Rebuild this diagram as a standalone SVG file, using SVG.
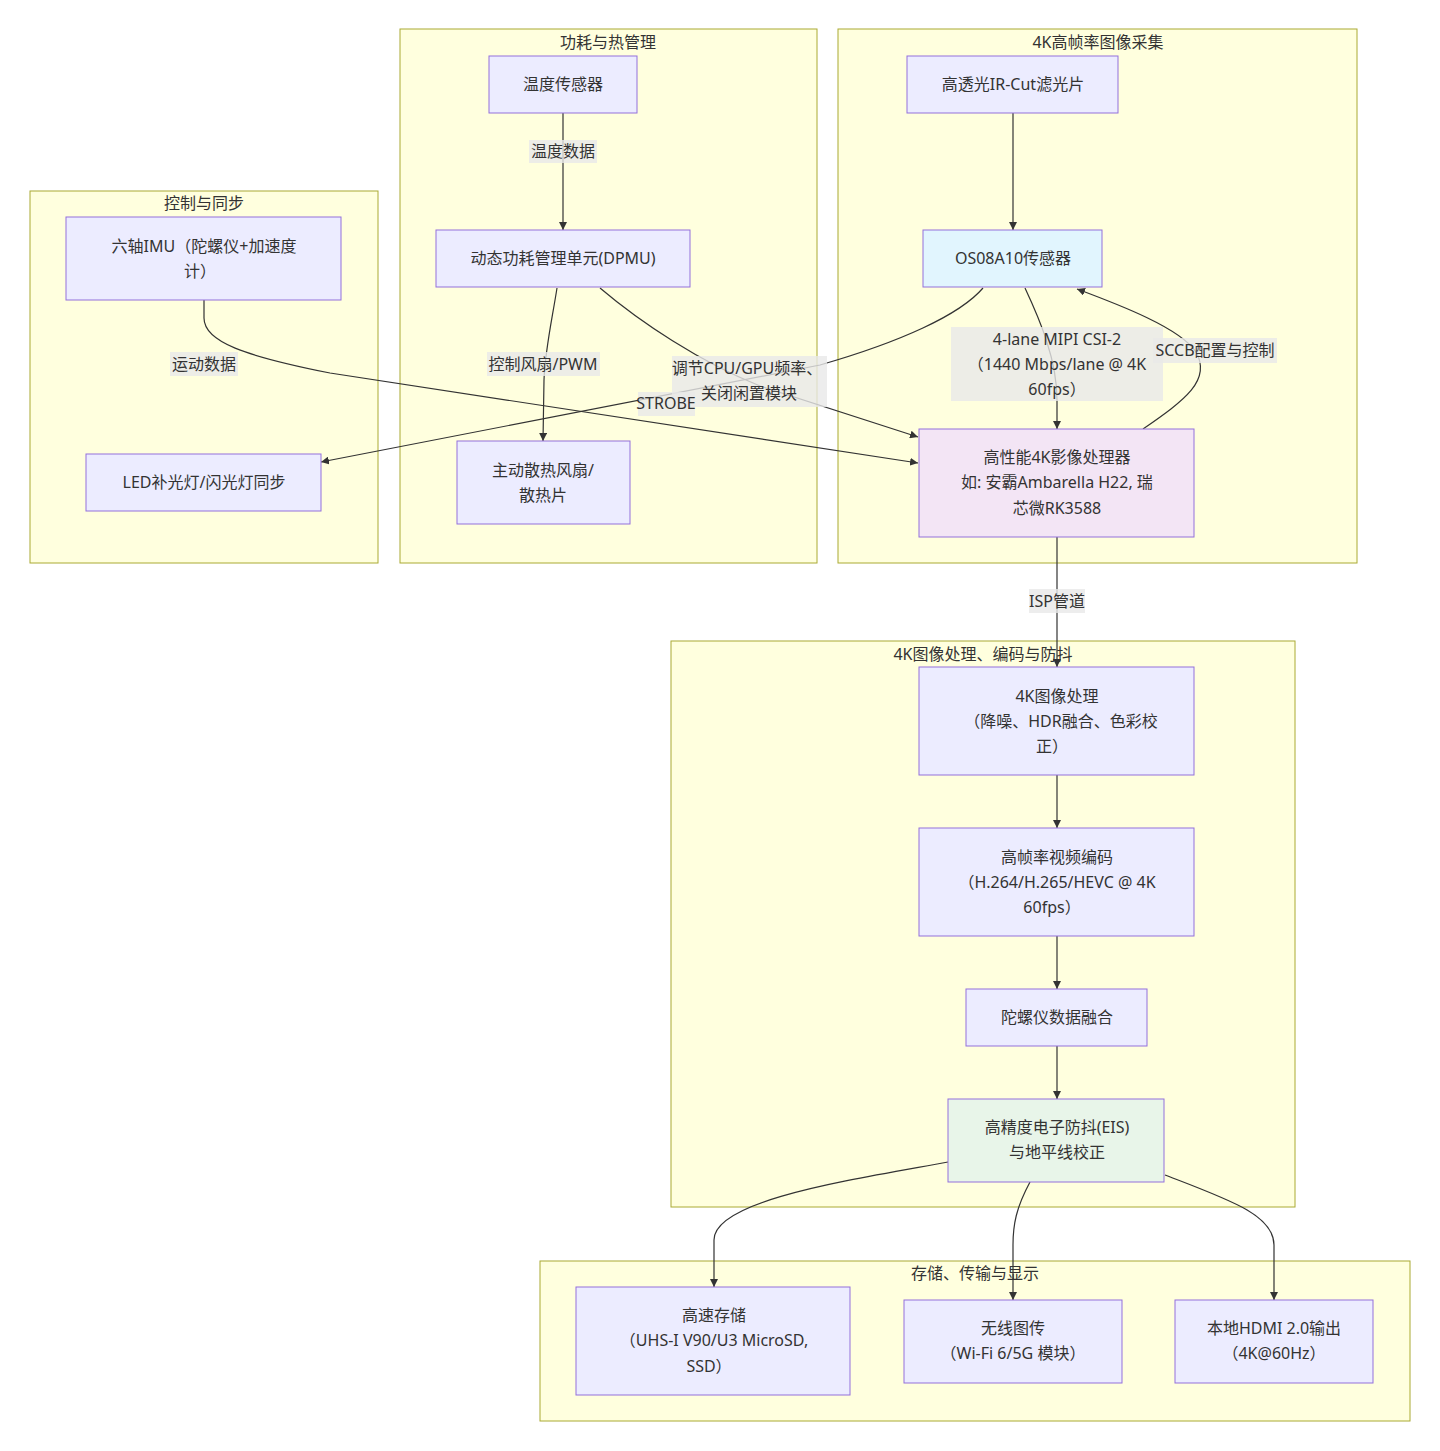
<svg xmlns="http://www.w3.org/2000/svg" width="1440" height="1451" viewBox="0 0 1440 1451">
<style>
text{font-family:"Noto Sans","Noto Sans CJK SC",sans-serif;font-size:16px;fill:#333;text-anchor:middle;dominant-baseline:central}
.cl{fill:#ffffde;stroke:#aaaa33;stroke-width:1}
.nd{fill:#ececff;stroke:#9370db;stroke-width:1}
.e{fill:none;stroke:#333;stroke-width:1.2;marker-end:url(#ah)}
.lb{fill:#e8e8e8;fill-opacity:0.8}
</style>
<defs>
<marker id="ah" viewBox="0 0 10 10" refX="10" refY="5" markerWidth="8" markerHeight="8" orient="auto" markerUnits="userSpaceOnUse"><path d="M0,0 L10,5 L0,10 z" fill="#333"/></marker>
</defs>
<rect width="1440" height="1451" fill="#ffffff"/>
<g id="clusters">
<g id="cl-ctrl"><rect class="cl" x="30" y="191" width="348" height="372"/><text x="204" y="203">控制与同步</text></g>
<g id="cl-power"><rect class="cl" x="400" y="29" width="417" height="534"/><text x="608" y="42">功耗与热管理</text></g>
<g id="cl-capture"><rect class="cl" x="838" y="29" width="519" height="534"/><text x="1098" y="42">4K高帧率图像采集</text></g>
<g id="cl-proc"><rect class="cl" x="671" y="641" width="624" height="566"/><text x="983" y="654">4K图像处理、编码与防抖</text></g>
<g id="cl-out"><rect class="cl" x="540" y="1261" width="870" height="160"/><text x="975" y="1273">存储、传输与显示</text></g>
</g>
<g id="connectors">
<path class="e" d="M563,113 L563,230"/>
<path class="e" d="M557,288 C552,320 545,350 544,380 L543,441"/>
<path class="e" d="M600,288 C640,322 700,362 760,386 L918,437"/>
<path class="e" d="M204,300 L204,318 C204,342 245,356 330,373 L918,463"/>
<path class="e" d="M983,288 C960,315 900,342 820,365 L321,462"/>
<path class="e" d="M1025,288 C1040,320 1057,360 1057,400 L1057,429"/>
<path class="e" d="M1143,429 C1185,400 1212,380 1196,352 C1180,328 1120,305 1077,289"/>
<path class="e" d="M1013,113 L1013,230"/>
<path class="e" d="M1057,537 L1057,667"/>
<path class="e" d="M1057,775 L1057,828"/>
<path class="e" d="M1057,936 L1057,989"/>
<path class="e" d="M1057,1046 L1057,1099"/>
<path class="e" d="M948,1162 C850,1180 714,1200 714,1240 L714,1287"/>
<path class="e" d="M1030,1182 C1016,1208 1013,1225 1013,1245 L1013,1300"/>
<path class="e" d="M1165,1175 C1230,1200 1274,1215 1274,1245 L1274,1300"/>
</g>
<g id="edge-labels">
<g><rect class="lb" x="529" y="140" width="68" height="23"/><text x="563" y="151">温度数据</text></g>
<g><rect class="lb" x="170" y="352" width="68" height="24"/><text x="204" y="364">运动数据</text></g>
<g><rect class="lb" x="487" y="352" width="113" height="24"/><text x="543" y="364">控制风扇/PWM</text></g>
<g><rect class="lb" x="672" y="356" width="155" height="51"/><text x="747" y="368">调节CPU/GPU频率、</text><text x="749" y="393">关闭闲置模块</text></g>
<g><rect class="lb" x="638" y="392" width="57" height="24"/><text x="666" y="403">STROBE</text></g>
<g><rect class="lb" x="951" y="327" width="212" height="74"/><text x="1057" y="339">4-lane MIPI CSI-2</text><text x="1057" y="364">（1440 Mbps/lane @ 4K</text><text x="1057" y="389">60fps）</text></g>
<g><rect class="lb" x="1153" y="338" width="124" height="25"/><text x="1215" y="350">SCCB配置与控制</text></g>
<g><rect class="lb" x="1029" y="589" width="56" height="24"/><text x="1057" y="601">ISP管道</text></g>
</g>
<g id="n-temp"><rect class="nd" x="489" y="56" width="148" height="57"/><text x="563" y="84">温度传感器</text></g>
<g id="n-dpmu"><rect class="nd" x="436" y="230" width="254" height="57"/><text x="563" y="258">动态功耗管理单元(DPMU)</text></g>
<g id="n-fan"><rect class="nd" x="457" y="441" width="173" height="83"/><text x="543" y="470">主动散热风扇/</text><text x="543" y="495">散热片</text></g>
<g id="n-imu"><rect class="nd" x="66" y="217" width="275" height="83"/><text x="204" y="246">六轴IMU（陀螺仪+加速度</text><text x="200" y="271">计）</text></g>
<g id="n-led"><rect class="nd" x="86" y="454" width="235" height="57"/><text x="204" y="482">LED补光灯/闪光灯同步</text></g>
<g id="n-ircut"><rect class="nd" x="907" y="56" width="211" height="57"/><text x="1013" y="84">高透光IR-Cut滤光片</text></g>
<g id="n-sensor"><rect class="nd" x="923" y="230" width="179" height="57" style="fill:#e1f5fe"/><text x="1013" y="258">OS08A10传感器</text></g>
<g id="n-soc"><rect class="nd" x="919" y="429" width="275" height="108" style="fill:#f3e5f5"/><text x="1057" y="457">高性能4K影像处理器</text><text x="1057" y="482">如: 安霸Ambarella H22, 瑞</text><text x="1057" y="508">芯微RK3588</text></g>
<g id="n-isp"><rect class="nd" x="919" y="667" width="275" height="108"/><text x="1057" y="696">4K图像处理</text><text x="1061" y="721">（降噪、HDR融合、色彩校</text><text x="1052" y="746">正）</text></g>
<g id="n-enc"><rect class="nd" x="919" y="828" width="275" height="108"/><text x="1057" y="857">高帧率视频编码</text><text x="1057" y="882">（H.264/H.265/HEVC @ 4K</text><text x="1052" y="907">60fps）</text></g>
<g id="n-gyro"><rect class="nd" x="966" y="989" width="181" height="57"/><text x="1057" y="1017">陀螺仪数据融合</text></g>
<g id="n-eis"><rect class="nd" x="948" y="1099" width="216" height="83" style="fill:#e8f5e9"/><text x="1057" y="1127">高精度电子防抖(EIS)</text><text x="1057" y="1152">与地平线校正</text></g>
<g id="n-store"><rect class="nd" x="576" y="1287" width="274" height="108"/><text x="714" y="1315">高速存储</text><text x="714" y="1340">（UHS-I V90/U3 MicroSD,</text><text x="709" y="1366">SSD）</text></g>
<g id="n-wifi"><rect class="nd" x="904" y="1300" width="218" height="83"/><text x="1013" y="1328">无线图传</text><text x="1013" y="1353">（Wi-Fi 6/5G 模块）</text></g>
<g id="n-hdmi"><rect class="nd" x="1175" y="1300" width="198" height="83"/><text x="1274" y="1328">本地HDMI 2.0输出</text><text x="1274" y="1353">（4K@60Hz）</text></g>
</svg>
